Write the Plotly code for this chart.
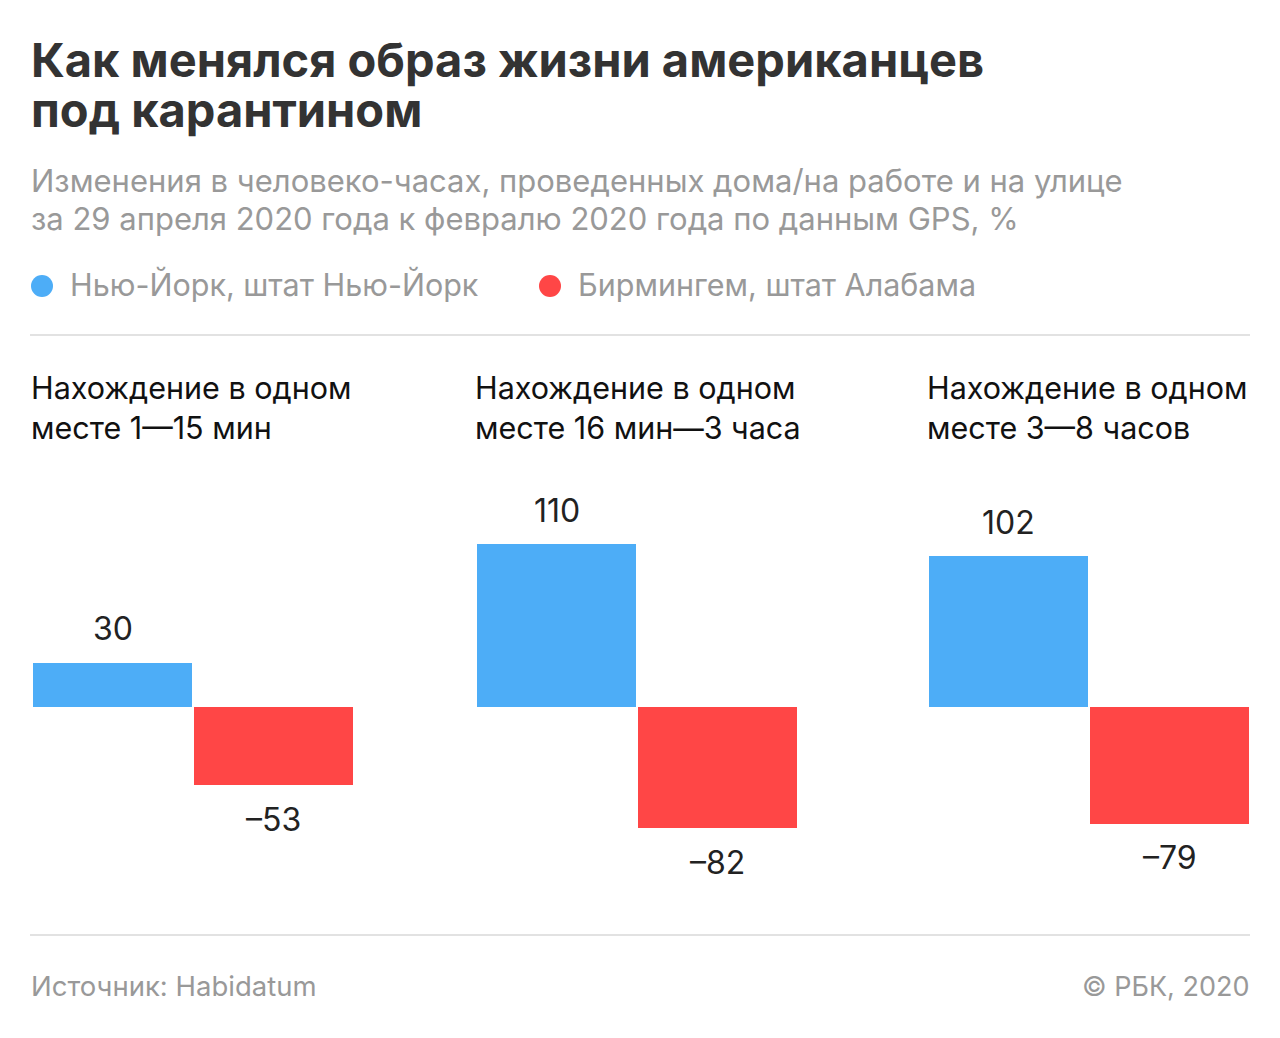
import plotly.graph_objects as go

# page body has an 8px margin; the figure fills the rest of the 1280x1038 window
OFF = 8
W, H = 1280 - OFF, 1038 - OFF

panel_titles = [
    ["Нахождение в одном", "месте 1—15 мин"],
    ["Нахождение в одном", "месте 16 мин—3 часа"],
    ["Нахождение в одном", "месте 3—8 часов"],
]
series_names = ["Нью-Йорк, штат Нью-Йорк", "Бирмингем, штат Алабама"]
new_york = [30, 110, 102]
birmingham = [-53, -82, -79]
colors = ["#4DADF7", "#FF4646"]

title_lines = ["Как менялся образ жизни американцев", "под карантином"]
subtitle_lines = [
    "Изменения в человеко-часах, проведенных дома/на работе и на улице",
    "за 29 апреля 2020 года к февралю 2020 года по данным GPS, %",
]
source_text = "Источник: Habidatum"
copyright_text = "© РБК, 2020"

FONT = "Inter"

def px(x):
    return (x - OFF) / W

def py(y):
    return 1 - (y - OFF) / H

panel_left = [32, 476, 928]
panel_w = 322
y_top, y_bot = 460, 900
zero_px = 707
scale = 1.48
y_max = (zero_px - y_top) / scale
y_min = -(y_bot - zero_px) / scale

fig = go.Figure()
annotations = []
for i in range(3):
    xa = "x" if i == 0 else f"x{i+1}"
    ya = "y" if i == 0 else f"y{i+1}"
    vals = [new_york[i], birmingham[i]]
    fig.add_trace(go.Bar(
        x=[0, 1], y=vals, marker=dict(color=colors, line=dict(width=0)),
        width=0.99, xaxis=xa, yaxis=ya, showlegend=False, hoverinfo="skip",
    ))
    layout_x = "xaxis" if i == 0 else f"xaxis{i+1}"
    layout_y = "yaxis" if i == 0 else f"yaxis{i+1}"
    fig.update_layout(**{
        layout_x: dict(domain=[px(panel_left[i]), px(panel_left[i] + panel_w)],
                       range=[-0.5, 1.5], visible=False, anchor=ya, fixedrange=True),
        layout_y: dict(domain=[py(y_bot), py(y_top)], range=[y_min, y_max],
                       visible=False, anchor=xa, fixedrange=True),
    })
    for j, v in enumerate(vals):
        label = str(v) if v >= 0 else "–" + str(abs(v))
        annotations.append(dict(
            x=j, y=v, xref=xa, yref=ya, text=label, showarrow=False,
            xanchor="center", yanchor="middle", yshift=34 if v >= 0 else -34,
            font=dict(family=FONT, size=32, color="#222222"),
        ))
    for k, line in enumerate(panel_titles[i]):
        annotations.append(dict(
            x=px(panel_left[i] - 3), y=py(387 + 40 * k), xref="paper", yref="paper",
            text=line, showarrow=False, xanchor="left", yanchor="middle",
            font=dict(family=FONT, size=30.5, color="#111111"),
        ))

for k, line in enumerate(title_lines):
    annotations.append(dict(
        x=px(29), y=py(60 + 49 * k), xref="paper", yref="paper",
        text=f"<b>{line}</b>", showarrow=False, xanchor="left", yanchor="middle",
        font=dict(family=FONT, size=47, color="#333333", weight=900),
    ))
for k, line in enumerate(subtitle_lines):
    annotations.append(dict(
        x=px(29), y=py(180 + 39 * k), xref="paper", yref="paper",
        text=line, showarrow=False, xanchor="left", yanchor="middle",
        font=dict(family=FONT, size=31, color="#999999"),
    ))

legend_x = [42, 550]
shapes = []
for k, name in enumerate(series_names):
    cx, cy, r = legend_x[k], 286, 11
    shapes.append(dict(type="circle", xref="paper", yref="paper",
                       x0=px(cx - r), x1=px(cx + r), y0=py(cy + r), y1=py(cy - r),
                       fillcolor=colors[k], line=dict(width=0)))
    annotations.append(dict(
        x=px(cx + 26), y=py(285), xref="paper", yref="paper",
        text=name, showarrow=False, xanchor="left", yanchor="middle",
        font=dict(family=FONT, size=30.5, color="#999999"),
    ))

for yy in [335, 935]:
    shapes.append(dict(type="line", xref="paper", yref="paper",
                       x0=px(30), x1=px(1250), y0=py(yy), y1=py(yy),
                       line=dict(color="#E2E2E2", width=2)))

annotations.append(dict(
    x=px(29), y=py(986), xref="paper", yref="paper", text=source_text,
    showarrow=False, xanchor="left", yanchor="middle",
    font=dict(family=FONT, size=27.5, color="#999999"),
))
annotations.append(dict(
    x=px(1251), y=py(986), xref="paper", yref="paper", text=copyright_text,
    showarrow=False, xanchor="right", yanchor="middle",
    font=dict(family=FONT, size=27, color="#999999"),
))

fig.update_layout(
    width=W, height=H, margin=dict(l=0, r=0, t=0, b=0),
    paper_bgcolor="white", plot_bgcolor="white",
    annotations=annotations, shapes=shapes, bargap=0, showlegend=False,
)

fig.write_html("out.html", config={"displayModeBar": False})
